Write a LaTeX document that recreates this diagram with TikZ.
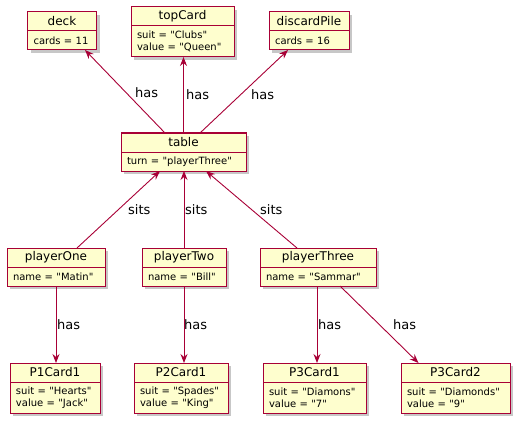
\documentclass[tikz,border=0pt]{standalone}
\usepackage{fontspec}
\setmainfont{DejaVu Sans}[Ligatures=TeXOff]
\usetikzlibrary{arrows.meta,shadows,calc}
\definecolor{umlred}{HTML}{A80036}
\definecolor{umlfill}{HTML}{FEFECE}
\tikzset{
  objshadow/.style={drop shadow={shadow xshift=3pt,shadow yshift=-3pt,fill=black,opacity=0.22}},
  hdr/.style={draw=umlred, fill=umlfill, line width=1pt, minimum height=19pt, inner sep=0pt, outer sep=0pt,
    font=\fontsize{12}{14}\selectfont, anchor=north west, objshadow},
  bdy/.style={draw=umlred, fill=umlfill, line width=1pt, inner xsep=6pt, inner ysep=0pt, outer sep=0pt,
    align=left, font=\fontsize{10}{12}\selectfont, anchor=north west, objshadow},
  conn/.style={draw=umlred, line width=0.9pt, -{Stealth[length=9pt,width=7pt,inset=3pt]}},
  lbl/.style={font=\fontsize{13}{15}\selectfont, anchor=west, inner sep=0pt}
}
\newcommand\umlobj[7]{%
  \node[hdr, minimum width=#4pt] (#1) at (#2,#3) {#5};
  \node[bdy, minimum width=#4pt, text width=\the\dimexpr#4pt-12pt\relax, minimum height=#7pt] (#1-b) at (#1.south west) {#6};}
\begin{document}
\begin{tikzpicture}[x=1pt,y=-1pt]
\useasboundingbox (0,0) rectangle (527,425);
% top row
\umlobj{deck}{27.5}{12}{69}{deck}{cards = 11}{19}
\umlobj{topCard}{131}{7}{103}{topCard}{suit = "Clubs"\\value = "Queen"}{31}
\umlobj{discardPile}{269}{12}{80}{discardPile}{cards = 16}{19}
% table
\umlobj{table}{121}{133}{125}{table}{turn = "playerThree"}{19}
% players
\umlobj{playerOne}{7}{248}{98}{playerOne}{name = "Matin"}{19}
\umlobj{playerTwo}{142}{248}{84}{playerTwo}{name = "Bill"}{19}
\umlobj{playerThree}{260}{248}{116}{playerThree}{name = "Sammar"}{19}
% cards
\umlobj{P1Card1}{10}{363}{90}{P1Card1}{suit = "Hearts"\\value = "Jack"}{31}
\umlobj{P2Card1}{134}{363}{94}{P2Card1}{suit = "Spades"\\value = "King"}{31}
\umlobj{P3Card1}{263}{363}{103}{P3Card1}{suit = "Diamons"\\value = "7"}{31}
\umlobj{P3Card2}{401}{363}{109}{P3Card2}{suit = "Diamonds"\\value = "9"}{31}
% connectors table -> top row
\draw[conn] ([xshift=-18.5pt]table.north) -- ([xshift=23pt]deck-b.south);
\draw[conn] (table.north) -- (table.north |- topCard-b.south);
\draw[conn] ([xshift=16.5pt]table.north) -- ([xshift=-21pt]discardPile-b.south);
% players -> table
\draw[conn] ([xshift=21pt]playerOne.north) -- ([xshift=-23.5pt]table-b.south);
\draw[conn] (playerTwo.north) -- (playerTwo.north |- table-b.south);
\draw[conn] ([xshift=-21pt]playerThree.north) -- ([xshift=22.5pt]table-b.south);
% players -> cards
\draw[conn] (playerOne-b.south) -- (playerOne-b.south |- P1Card1.north);
\draw[conn] (playerTwo-b.south) -- (playerTwo-b.south |- P2Card1.north);
\draw[conn] ([xshift=-1pt]playerThree-b.south) -- ([xshift=-1pt]playerThree-b.south |- P3Card1.north);
\draw[conn] ([xshift=22pt]playerThree-b.south) -- ([xshift=-37pt]P3Card2.north);
% labels
\node[lbl] (l1) at (135,93) {has};
\node[lbl] (l2) at (186,95) {has};
\node[lbl] (l3) at (251,95) {has};
\node[lbl] (l4) at (128,210) {sits};
\node[lbl] (l5) at (185,210) {sits};
\node[lbl] (l6) at (260,210) {sits};
\node[lbl] (l7) at (57,325) {has};
\node[lbl] (l8) at (184,325) {has};
\node[lbl] (l9) at (318,325) {has};
\node[lbl] (l10) at (393,325) {has};
\end{tikzpicture}
\end{document}
